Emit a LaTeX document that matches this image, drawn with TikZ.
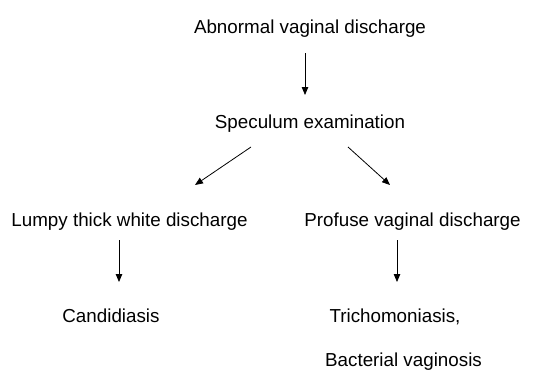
\documentclass[tikz,border=0pt]{standalone}
\usepackage{fontspec}
\setmainfont{Liberation Sans}
\usetikzlibrary{arrows.meta}
\tikzset{
  lbl/.style={inner sep=0pt,anchor=base,font=\fontsize{18.8}{22}\selectfont},
  flow/.style={line width=0.8pt,-{Triangle[length=8pt,width=6.5pt]}}
}

\begin{document}
\begin{tikzpicture}[x=1pt,y=-1pt]
\useasboundingbox (0,0) rectangle (534,369);
\node[lbl] (abn) at (310,34) {Abnormal vaginal discharge};
\node[lbl] (spec) at (310,128) {Speculum examination};
\node[lbl] (lumpy) at (129.5,226) {Lumpy thick white discharge};
\node[lbl] (profuse) at (412.5,226) {Profuse vaginal discharge};
\node[lbl] (cand) at (111,322) {Candidiasis};
\node[lbl] (trich) at (395,322) {Trichomoniasis,};
\node[lbl] (bact) at (403.5,366) {Bacterial vaginosis};
% arrows
\draw[flow] ([xshift=-5pt,yshift=-19pt]abn.base) -- ([xshift=-5pt,yshift=33pt]spec.base);
\draw[flow] ([xshift=-59pt,yshift=-19pt]spec.base) -- ([xshift=65.5pt,yshift=41pt]lumpy.base);
\draw[flow] ([xshift=38pt,yshift=-19pt]spec.base) -- ([xshift=-22.5pt,yshift=41pt]profuse.base);
\draw[flow] ([xshift=-10.5pt,yshift=-14pt]lumpy.base) -- ([xshift=8pt,yshift=40pt]cand.base);
\draw[flow] ([xshift=-15.5pt,yshift=-14pt]profuse.base) -- ([xshift=2pt,yshift=40pt]trich.base);
\end{tikzpicture}
\end{document}
